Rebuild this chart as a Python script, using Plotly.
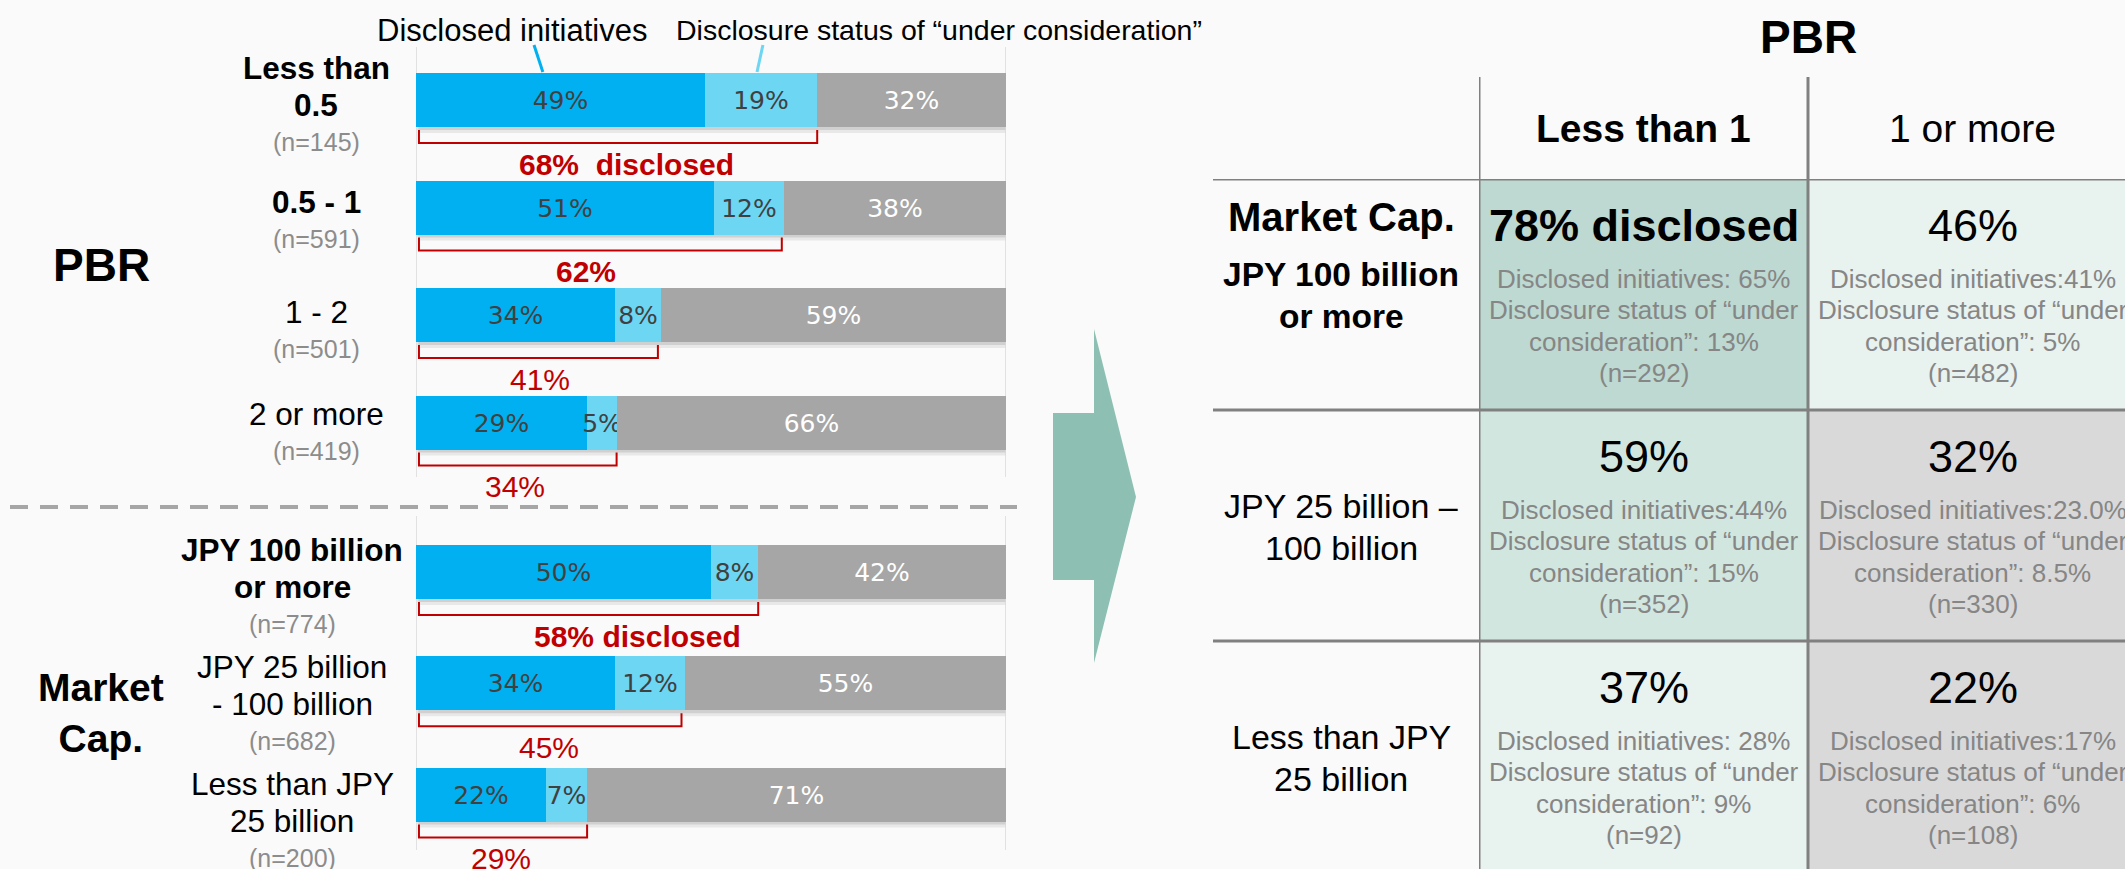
import plotly.graph_objects as go

W, H = 2125, 869
FONT = "Liberation Sans, Arial, sans-serif"
BAR_FONT = "DejaVu Sans, Verdana, sans-serif"

# ---------------- left chart data ----------------
row_names = [["Less than", "0.5"], ["0.5 - 1"], ["1 - 2"], ["2 or more"],
             ["JPY 100 billion", "or more"], ["JPY 25 billion", "- 100 billion"],
             ["Less than JPY", "25 billion"]]
row_n = [145, 591, 501, 419, 774, 682, 200]
initiatives = [49, 51, 34, 29, 50, 34, 22]
under_consideration = [19, 12, 8, 5, 8, 12, 7]
not_disclosed = [32, 38, 59, 66, 42, 55, 71]
disclosed_total = [68, 62, 41, 34, 58, 45, 29]
disclosed_text = ["68%  disclosed", "62%", "41%", "34%", "58% disclosed", "45%", "29%"]
highlight = [True, True, False, False, True, False, False]

# ---------------- right table data ----------------
pbr_cols = ["Less than 1", "1 or more"]
cap_rows = [["JPY 100 billion", "or more"], ["JPY 25 billion –", "100 billion"],
            ["Less than JPY", "25 billion"]]
cell_total = [[78, 46], [59, 32], [37, 22]]
cell_init = [[" 65%", "41%"], ["44%", "23.0%"], [" 28%", "17%"]]
cell_under = [["13%", "5%"], ["15%", "8.5%"], ["9%", "6%"]]
cell_n = [[292, 482], [352, 330], [92, 108]]


def px(x):
    return x / W


def py(y):
    return 1 - y / H


def note(**kw):
    kw.setdefault("showarrow", False)
    kw.setdefault("xanchor", "center")
    kw.setdefault("yanchor", "middle")
    return kw


# layout of rows (y axis of the left chart is in pixels, top-down)
pbr_top, pbr_pitch = 100, 107.5
cap_top, cap_pitch = 572, 111.3
row_y = [pbr_top + i * pbr_pitch for i in range(4)] + [cap_top + j * cap_pitch for j in range(3)]
bar_h = 54
label_dy = [5, 13, 15, 10, 15, 21, 26]
total_dx = [8, -14, 2, -3, 49, -1, -2]

fig = go.Figure()
shapes, annos = [], []

# stacked bars
sums = [a + b + c for a, b, c in zip(initiatives, under_consideration, not_disclosed)]
base = [0] * len(sums)
for vals, col, tcol in [(initiatives, "#00B0F0", "#404040"),
                        (under_consideration, "#6DD6F3", "#404040"),
                        (not_disclosed, "#A6A6A6", "white")]:
    w = [v / s * 100 for v, s in zip(vals, sums)]
    fig.add_trace(go.Bar(y=row_y, x=w, base=base, orientation="h", width=bar_h,
                         marker=dict(color=col, line_width=0),
                         text=[f"{v}%" for v in vals], textposition="inside",
                         insidetextanchor="middle", constraintext="none", textangle=0,
                         textfont=dict(family=BAR_FONT, size=25, color=tcol),
                         hoverinfo="skip", showlegend=False))
    base = [b + x for b, x in zip(base, w)]

for i, y in enumerate(row_y):
    # soft shadow
    shapes.append(dict(type="rect", xref="x", yref="y", x0=0.4, x1=100.5,
                       y0=y - bar_h / 2 + 5, y1=y + bar_h / 2 + 6,
                       fillcolor="rgba(0,0,0,0.07)", line_width=0, layer="below"))
    shapes.append(dict(type="rect", xref="x", yref="y", x0=0.2, x1=100.25,
                       y0=y - bar_h / 2 + 2, y1=y + bar_h / 2 + 3,
                       fillcolor="rgba(0,0,0,0.10)", line_width=0, layer="below"))
    # bracket
    t = disclosed_total[i]
    yt, yb = y + 30, y + 43
    shapes.append(dict(type="path", xref="x", yref="y",
                       path=f"M 0.5,{yt} L 0.5,{yb} L {t},{yb} L {t},{yt}",
                       line=dict(color="#C00000", width=2)))
    annos.append(note(xref="x", yref="y", x=(0.5 + t) / 2, y=y + 64, xshift=total_dx[i],
                      text=f"<b>{disclosed_text[i]}</b>" if highlight[i] else disclosed_text[i],
                      font=dict(family=FONT, size=30, color="#C00000")))
    # row label
    lines = row_names[i] + [f"(n={row_n[i]})"]
    cx = 316 if i < 4 else 292
    for k, ln in enumerate(lines):
        ly = y + label_dy[i] + (k - (len(lines) - 1) / 2) * 37
        is_n = k == len(lines) - 1
        txt = ln if (is_n or not highlight[i]) else f"<b>{ln}</b>"
        annos.append(note(xref="paper", yref="y", x=px(cx), y=ly, text=txt,
                          font=dict(family=FONT, size=25 if is_n else 31.5,
                                    color="#8C8C8C" if is_n else "black")))

# faint vertical guides
for xv in (0, 100):
    for y0, y1 in ((47, 477), (516, 850)):
        shapes.append(dict(type="line", xref="x", yref="y", x0=xv, x1=xv, y0=y0, y1=y1,
                           line=dict(color="#D9D9D9", width=1.5), layer="below"))

# legend pointers + text
shapes.append(dict(type="line", xref="x", yref="y", x0=20.0, x1=21.5, y0=45, y1=72,
                   line=dict(color="#00B0F0", width=3)))
shapes.append(dict(type="line", xref="x", yref="y", x0=58.8, x1=57.8, y0=45, y1=72,
                   line=dict(color="#6DD6F3", width=3)))
annos.append(note(xref="paper", yref="paper", x=px(512), y=py(30), text="Disclosed initiatives",
                  font=dict(family=FONT, size=31, color="black")))
annos.append(note(xref="paper", yref="paper", x=px(674), y=py(30), xanchor="left",
                  text="Disclosure status of “under consideration”",
                  font=dict(family=FONT, size=28.5, color="black")))

# group titles and separator
annos.append(note(xref="paper", yref="paper", x=px(101), y=py(265), text="<b>PBR</b>",
                  font=dict(family=FONT, size=46, color="black")))
annos.append(note(xref="paper", yref="paper", x=px(101), y=py(713), text="<b>Market<br>Cap.</b>",
                  font=dict(family=FONT, size=39, color="black")))
shapes.append(dict(type="line", xref="paper", yref="paper", x0=px(10), x1=px(1017),
                   y0=py(507), y1=py(507), line=dict(color="#A6A6A6", width=4, dash="18px,12px")))

# arrow
shapes.append(dict(type="path", xref="paper", yref="paper", fillcolor="#8DC0B3", line_width=0,
                   path=(f"M {px(1053)},{py(413)} L {px(1094)},{py(413)} L {px(1094)},{py(329)} "
                         f"L {px(1136)},{py(497)} L {px(1094)},{py(663)} L {px(1094)},{py(580)} "
                         f"L {px(1053)},{py(580)} Z")))

# ---------------- right table ----------------
cell_w, cell_h = 329, 231
fig.add_trace(go.Heatmap(z=cell_total, x=[0, 1], y=[0, 1, 2], xaxis="x2", yaxis="y2",
                         zmin=0, zmax=100, showscale=False, hoverinfo="skip",
                         colorscale=[[0, "#D9D9D9"], [0.35, "#D9D9D9"], [0.35, "#E8F2EF"],
                                     [0.5, "#E8F2EF"], [0.5, "#D2E6E0"], [0.7, "#D2E6E0"],
                                     [0.7, "#BDD9D1"], [1, "#BDD9D1"]]))

for r in range(3):
    for c in range(2):
        big = f"{cell_total[r][c]}%"
        if r == 0 and c == 0:
            big = f"<b>{big} disclosed</b>"
        annos.append(note(xref="x2", yref="y2", x=c, y=r, yshift=69, text=big,
                          font=dict(family=FONT, size=45, color="black")))
        details = [f"Disclosed initiatives:{cell_init[r][c]}", "Disclosure status of “under",
                   f"consideration”: {cell_under[r][c]}", f"(n={cell_n[r][c]})"]
        for k, d in enumerate(details):
            annos.append(note(xref="x2", yref="y2", x=c, y=r, yshift=16 - k * 31.6, text=d,
                              font=dict(family=FONT, size=26, color="#868686")))
    # row labels
    if r == 0:
        annos.append(note(xref="paper", yref="y2", x=px(1341), y=r, yshift=78,
                          text="<b>Market Cap.</b>",
                          font=dict(family=FONT, size=40, color="black")))
    for k, ln in enumerate(cap_rows[r]):
        annos.append(note(xref="paper", yref="y2", x=px(1341), y=r, yshift=20 - k * 42,
                          text=f"<b>{ln}</b>" if r == 0 else ln,
                          font=dict(family=FONT, size=33.5 if r == 0 else 34, color="black")))

for c, name in enumerate(pbr_cols):
    annos.append(note(xref="x2", yref="paper", x=c, y=py(128),
                      text=f"<b>{name}</b>" if c == 0 else name,
                      font=dict(family=FONT, size=39, color="black")))
annos.append(note(xref="x2", yref="paper", x=0.5, y=py(37), text="<b>PBR</b>",
                  font=dict(family=FONT, size=46, color="black")))

for yv in (-0.5, 0.5, 1.5):
    shapes.append(dict(type="line", xref="paper", yref="y2", x0=px(1213), x1=1, y0=yv, y1=yv,
                       line=dict(color="#808080", width=3)))
for xv in (-0.5, 0.5):
    shapes.append(dict(type="line", xref="x2", yref="paper", x0=xv, x1=xv, y0=py(77), y1=0,
                       line=dict(color="#808080", width=3)))

fig.update_layout(
    width=W, height=H, margin=dict(l=0, r=0, t=0, b=0),
    paper_bgcolor="#FAFAFA", plot_bgcolor="rgba(0,0,0,0)",
    barmode="overlay", bargap=0,
    xaxis=dict(domain=[px(416), px(1006)], range=[0, 100], visible=False, fixedrange=True),
    yaxis=dict(domain=[0, 1], range=[H, 0], visible=False, fixedrange=True),
    xaxis2=dict(domain=[px(1479), 1], range=[-0.5, -0.5 + (W - 1479) / cell_w],
                visible=False, anchor="y2", fixedrange=True),
    yaxis2=dict(domain=[0, py(179)], range=[-0.5 + (H - 179) / cell_h, -0.5],
                visible=False, anchor="x2", fixedrange=True),
    shapes=shapes, annotations=annos, showlegend=False,
)

fig.write_html("out.html", config={"displayModeBar": False},
               post_script="document.body.style.margin='0';document.body.style.overflow='hidden';")
